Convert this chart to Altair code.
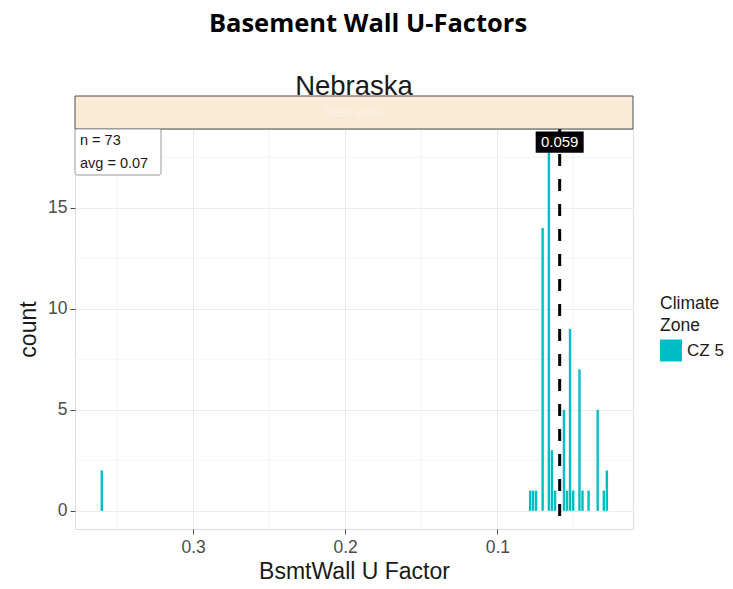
import altair as alt
import pandas as pd

# ---- data ----
u_value = [0.360, 0.0784, 0.0765, 0.0745, 0.0702, 0.0661, 0.0641, 0.0620, 0.0562,
           0.0542, 0.0522, 0.0501, 0.0460, 0.0440, 0.0400, 0.0340, 0.0300, 0.0280]
counts = [2, 1, 1, 1, 14, 18, 3, 1, 5, 1, 9, 1, 7, 1, 1, 5, 1, 2]
zone = ["CZ 5"] * len(u_value)
median_value = [0.059]
median_label = ["0.059"]
stats_lines = ["n = 73", "avg = 0.07"]
x_ticks = [0.1, 0.2, 0.3]
y_ticks = [0, 5, 10, 15]
x_minor = [0.05, 0.15, 0.25, 0.35]
y_minor = [2.5, 7.5, 12.5, 17.5]

W, H = 558, 400
HALF = 0.0008
TEAL = "#00BFC4"
AXFONT = "Liberation Sans"

bars_df = pd.DataFrame({"u": u_value, "count": counts, "zone": zone})
bars_df["lo"] = bars_df["u"] - HALF
bars_df["hi"] = bars_df["u"] + HALF
bars_df["zero"] = 0

xscale = alt.Scale(domain=[0.0108, 0.3776], reverse=True, nice=False, zero=False)
yscale = alt.Scale(domain=[-0.9, 18.9], nice=False, zero=False)

xaxis = alt.Axis(values=x_ticks, format=".1f", title="BsmtWall U Factor",
                 labelFont=AXFONT, labelFontSize=17.5, labelColor="#4D4D4D",
                 titleFont=AXFONT, titleFontSize=23, titleFontWeight="normal",
                 titleColor="#1A1A1A", tickColor="#4D4D4D", tickSize=5,
                 labelPadding=4, titleBaseline="alphabetic", titleY=49,
                 domain=False, grid=True, gridColor="#EBEBEB", gridWidth=1)
yaxis = alt.Axis(values=y_ticks, title="count",
                 labelFont=AXFONT, labelFontSize=17.5, labelColor="#4D4D4D",
                 titleFont=AXFONT, titleFontSize=23, titleFontWeight="normal",
                 titleColor="#1A1A1A", tickColor="#4D4D4D", tickSize=5,
                 labelPadding=3, titleBaseline="alphabetic", titleX=-40,
                 domain=False, grid=True, gridColor="#EBEBEB", gridWidth=1)

base = alt.Chart(pd.DataFrame({"k": [0]}))

minor_x = alt.Chart(pd.DataFrame({"v": x_minor})).mark_rule(
    color="#F3F3F3", strokeWidth=1).encode(
    x=alt.X("v:Q", scale=xscale, axis=xaxis))
minor_y = alt.Chart(pd.DataFrame({"v": y_minor})).mark_rule(
    color="#F3F3F3", strokeWidth=1).encode(
    y=alt.Y("v:Q", scale=yscale, axis=yaxis))

bars = alt.Chart(bars_df).mark_rect().encode(
    x=alt.X("lo:Q", scale=xscale, axis=xaxis),
    x2="hi:Q",
    y=alt.Y("count:Q", scale=yscale, axis=yaxis),
    y2="zero:Q",
    color=alt.Color("zone:N", scale=alt.Scale(range=[TEAL]),
                    legend=alt.Legend(title=["Climate", "Zone"], orient="none",
                                      legendX=585, legendY=166,
                                      titleFont=AXFONT, titleFontSize=17.5,
                                      titleFontWeight="normal", titleColor="#1A1A1A",
                                      titleLineHeight=22, titlePadding=5,
                                      labelFont=AXFONT, labelFontSize=17,
                                      labelColor="#1A1A1A", labelOffset=5,
                                      symbolType="square", symbolSize=484,
                                      symbolStrokeWidth=0, symbolOpacity=1)),
)

med_df = pd.DataFrame({"u": median_value, "label": median_label, "y": [18.25]})
median_rule = alt.Chart(med_df).mark_rule(
    color="black", strokeWidth=3, strokeDash=[12, 13]).encode(
    x=alt.X("u:Q", scale=xscale, axis=xaxis))
median_box = alt.Chart(med_df).mark_point(
    shape="M-1,-0.44L1,-0.44L1,0.44L-1,0.44Z", size=2304, filled=True,
    color="black", opacity=1).encode(
    x=alt.X("u:Q", scale=xscale, axis=xaxis),
    y=alt.Y("y:Q", scale=yscale, axis=yaxis))
median_text = alt.Chart(med_df).mark_text(
    color="white", font=AXFONT, fontSize=15, baseline="middle", align="center").encode(
    x=alt.X("u:Q", scale=xscale, axis=xaxis),
    y=alt.Y("y:Q", scale=yscale, axis=yaxis),
    text="label:N")

# strip + facet title
strip = base.mark_rect(fill="#FAEBD7", stroke="#4D4D4D", strokeWidth=1).encode(
    x=alt.value(0), x2=alt.value(W), y=alt.value(-33), y2=alt.value(0))
strip_ghost = base.mark_text(text="Nebraska", color="#FCF1E4", font=AXFONT,
                             fontSize=14, baseline="middle", align="center").encode(
    x=alt.value(W / 2), y=alt.value(-16))
facet_title = base.mark_text(text="Nebraska", color="#1A1A1A", font=AXFONT,
                             fontSize=27.5, baseline="alphabetic", align="center").encode(
    x=alt.value(W / 2), y=alt.value(-34))
main_title = base.mark_text(text="Basement Wall U-Factors", color="black",
                            font="Open Sans", fontWeight="bold", fontSize=25.5,
                            baseline="middle", align="center").encode(
    x=alt.value(293), y=alt.value(-105))

# stats box
stats_box = base.mark_rect(fill="white", stroke="#999999", strokeWidth=1,
                           cornerRadius=2).encode(
    x=alt.value(0), x2=alt.value(86), y=alt.value(0), y2=alt.value(46))
stats_text_1 = base.mark_text(text=stats_lines[0], font=AXFONT, fontSize=14.5,
                              color="#1A1A1A", align="left", baseline="middle").encode(
    x=alt.value(5), y=alt.value(12))
stats_text_2 = base.mark_text(text=stats_lines[1], font=AXFONT, fontSize=14.5,
                              color="#1A1A1A", align="left", baseline="middle").encode(
    x=alt.value(5), y=alt.value(35))

chart = alt.layer(
    minor_x, minor_y, bars, median_rule, strip, strip_ghost, facet_title,
    main_title, stats_box, stats_text_1, stats_text_2, median_box, median_text
).properties(
    width=W, height=H, autosize="none",
    padding={"left": 67, "top": 121, "right": 92, "bottom": 52},
).configure_view(stroke="#4D4D4D", strokeWidth=1).configure(background="white")

chart.save("out.html", embed_options={"renderer": "svg", "actions": False})
